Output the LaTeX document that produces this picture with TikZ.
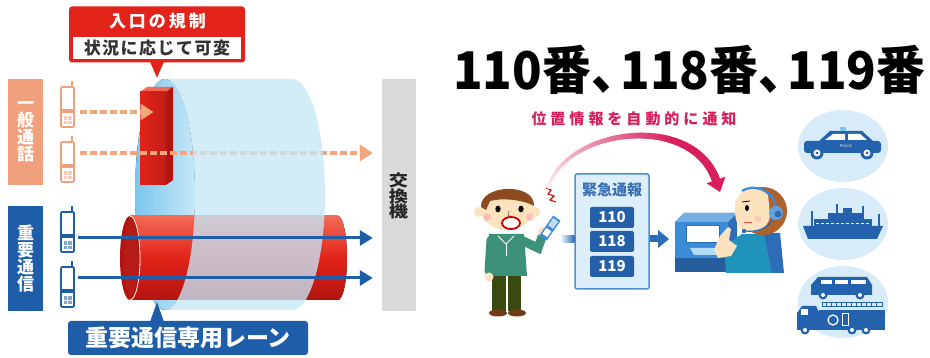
\documentclass[tikz,border=0pt]{standalone}
\usepackage{fontspec}
\setmainfont{Noto Sans CJK JP}
\usetikzlibrary{arrows.meta,calc,shapes.geometric}

\definecolor{salmon}{HTML}{F0A07C}
\definecolor{lane}{HTML}{1E5DA8}
\definecolor{tubeD}{HTML}{7CC6EE}
\definecolor{tubebody}{HTML}{C6E7F7}
\definecolor{redA}{HTML}{E2231A}
\definecolor{redD}{HTML}{B3140F}
\definecolor{redL}{HTML}{F26A55}
\definecolor{greybar}{HTML}{DADADA}
\definecolor{dashor}{HTML}{F3A67C}
\definecolor{crimson}{HTML}{D81E5B}
\definecolor{iconblue}{HTML}{2462AE}
\definecolor{circ}{HTML}{D7ECF8}
\definecolor{boxfill}{HTML}{DCEEF9}
\definecolor{boxline}{HTML}{4D8FD1}
\definecolor{numbox}{HTML}{2460AA}
\definecolor{skin}{HTML}{FDE3BD}
\definecolor{hair}{HTML}{8C4B1E}
\definecolor{hairB}{HTML}{B0602A}
\definecolor{shirt}{HTML}{3E9179}
\definecolor{pants}{HTML}{3A4812}
\definecolor{termA}{HTML}{3B8BD8}
\definecolor{termB}{HTML}{2D6DB8}
\definecolor{teal}{HTML}{1F93BC}

\tikzset{
  vlabel/.style={text=white, font=\bfseries\fontsize{17}{17}\selectfont, align=center, inner sep=0pt},
  dasharrow/.style={dashor, line width=3.5pt, dash pattern=on 7pt off 3pt,
    -{Triangle[length=13pt,width=16pt]}},
  lanearrow/.style={lane, line width=3pt, -{Triangle[length=13pt,width=15pt]}},
  numkey/.style={fill=numbox, rounded corners=2pt, minimum width=44pt, minimum height=21pt,
    inner sep=0pt, text=white, font=\bfseries\fontsize{15}{15}\selectfont},
  bubble/.style={fill=circ},
  icon/.style={fill=iconblue},
}

% small handset icon: x centre, top y, colour
\newcommand{\handsetIcon}[3]{%
  \draw[#3, line width=1.2pt] (#1+4.5,#2) -- (#1+4.5,#2-6);
  \draw[#3, line width=1.6pt, fill=white, rounded corners=1pt] (#1-6.5,#2) rectangle (#1+6.5,#2+40);
  \fill[#3] (#1-5.5,#2+22) rectangle (#1+5.5,#2+26);
  \fill[#3!55] (#1-4,#2+29) rectangle (#1+4,#2+37);
  \draw[white, line width=0.5pt] (#1,#2+29) -- (#1,#2+37) (#1-4,#2+33) -- (#1+4,#2+33);
}

\begin{document}
\begin{tikzpicture}[x=1pt,y=-1pt]
\useasboundingbox (0,0) rectangle (930,358);
\fill[white] (0,0) rectangle (930,358);

% ---------------- left panel ----------------
% category labels
\node[fill=salmon, minimum width=35pt, minimum height=106pt, inner sep=0pt] (general) at (25.5,132) {};
\node[vlabel] at (general) {一\\般\\通\\話};
\node[fill=lane, minimum width=35pt, minimum height=105pt, inner sep=0pt] (priority) at (25.5,258.5) {};
\node[vlabel] at (priority) {重\\要\\通\\信};

% handsets
\handsetIcon{67.5}{87}{salmon}
\handsetIcon{67.5}{142}{salmon}
\handsetIcon{67.5}{212}{lane}
\handsetIcon{67.5}{267}{lane}
\coordinate (g1) at (80,112);
\coordinate (g2) at (80,153);
\coordinate (p1) at (78,238);
\coordinate (p2) at (78,278);

% exchange
\node[fill=greybar, minimum width=34pt, minimum height=232pt, inner sep=0pt] (exch) at (399,195) {};
\node[font=\bfseries\fontsize{16}{15.5}\selectfont, text=black!85, align=center, inner sep=0pt] at (398.5,196)
  {\scalebox{1.2}[1]{交}\\\scalebox{1.2}[1]{換}\\\scalebox{1.2}[1]{機}};

% front face of the wide tube
\fill[left color=tubeD, right color=tubebody] (165,194.5) ellipse[x radius=30, y radius=115.5];

% dedicated lane cylinder
\fill[top color=redL, bottom color=redD, middle color=redA] (338,258) ellipse[x radius=9, y radius=42];
\fill[top color=redL, bottom color=redD, middle color=redA] (130,216) rectangle (338,300);
\fill[redD] (130,258) ellipse[x radius=10, y radius=42];
\fill[redA!80!black] (131,258) ellipse[x radius=7, y radius=38];
\draw[white, line width=0.8pt] (130,216) arc[start angle=-90, end angle=90, x radius=10, y radius=42];

% entry gate block
\fill[redL] (140,92) -- (147,87) -- (173,87) -- (166,92) -- cycle;
\fill[redD] (166,92) -- (173,87) -- (173,180) -- (166,185) -- cycle;
\fill[left color=redA, right color=redA!85!black] (140,92) rectangle (166,185);
\node[inner sep=0pt, minimum width=33pt, minimum height=98pt] (gate) at (156.5,136) {};

% general calls
\draw[dasharrow] (g2) -- ([xshift=-9pt]exch.west |- g2);
\draw[dasharrow] (g1) -- ([xshift=-3pt]gate.center |- g1);

% body of the wide tube (translucent)
\fill[tubebody, fill opacity=0.78] (165,79) -- (292,79)
  arc[start angle=-90, end angle=90, x radius=33, y radius=115.5] -- (165,310)
  arc[start angle=90, end angle=-90, x radius=30, y radius=115.5] -- cycle;

% priority calls
\draw[lanearrow] (p1) -- ([xshift=-9pt]exch.west |- p1);
\draw[lanearrow] (p2) -- ([xshift=-9pt]exch.west |- p2);

% callout: entry regulation
\node[fill=redA, rounded corners=3pt, minimum width=176pt, minimum height=56pt, inner sep=0pt] (reg) at (157,34.5) {};
\node[text=white, font=\bfseries\fontsize{17}{17}\selectfont, inner sep=0pt] at (157.5,21)
  {入\kern3pt 口\kern3pt の\kern3pt 規\kern3pt 制};
\node[fill=white, minimum width=168pt, minimum height=22pt, inner sep=0pt,
  text=black!80, font=\bfseries\fontsize{17}{17}\selectfont] (regsub) at (157,48.5)
  {状\kern1.5pt 況\kern1.5pt に\kern1.5pt 応\kern1.5pt じ\kern1.5pt て\kern1.5pt 可\kern1.5pt 変};
\fill[redA] ([xshift=-7pt,yshift=1pt]reg.south) -- ([xshift=7pt,yshift=1pt]reg.south) -- ([yshift=-15pt]reg.south) -- cycle;

% callout: dedicated lane
\node[fill=lane, rounded corners=3pt, minimum width=240pt, minimum height=34pt, inner sep=0pt,
  text=white, font=\bfseries\fontsize{23}{23}\selectfont] (lanelbl) at (188,338) {重要通信専用レーン};
\fill[lane] (150,322) -- (164,322) -- (157,302) -- cycle;

% ---------------- right panel ----------------
\node[anchor=base west, inner sep=0pt, font=\bfseries\fontsize{52}{52}\selectfont] (title) at (453,90)
  {\resizebox{472pt}{\height}{110番\makebox[0.6em][l]{、}118番\makebox[0.6em][l]{、}119番}};

\node[text=crimson, font=\bfseries\fontsize{15}{15}\selectfont, inner sep=0pt] (notify) at (634,119)
  {位\kern4pt 置\kern4pt 情\kern4pt 報\kern4pt を\kern4pt 自\kern4pt 動\kern4pt 的\kern4pt に\kern4pt 通\kern4pt 知};

% service circles
\fill[bubble] (843,146) ellipse[x radius=45, y radius=36];
\fill[bubble] (843,224) ellipse[x radius=45, y radius=36];
\fill[bubble] (843,302) ellipse[x radius=45, y radius=36];

% police car
\fill[icon] (830,131) -- (862,131) -- (873,141) -- (819,141) -- cycle;
\fill[white] (825,140) -- (833,134) -- (845,134) -- (845,140) -- cycle;
\fill[white] (848,134) -- (860,134) -- (867,140) -- (848,140) -- cycle;
\fill[icon, rounded corners=3pt] (804,141) rectangle (881,153);
\fill[tubeD] (840,127) rectangle (846,131);
\foreach \wx in {817,867} {
  \fill[icon] (\wx,153) circle[radius=6.5];
  \fill[white] (\wx,153) circle[radius=3.5];
  \fill[icon] (\wx,153) circle[radius=1.5];
}
\node[text=white, font=\fontsize{3.5}{3.5}\selectfont, inner sep=0pt] at (846,146) {POLICE};

% ship
\fill[icon] (803,226) -- (883,226) -- (877,239) -- (808,239) -- cycle;
\fill[icon] (814,219) rectangle (872,226);
\fill[icon] (828,213) rectangle (862,219);
\fill[icon] (843,208) rectangle (852,213);
\draw[iconblue, line width=1.2pt] (812,211) -- (812,226) (837,204) -- (837,213) (863,206) -- (863,219) (879,214) -- (879,226);
\draw[white, line width=0.8pt, dash pattern=on 3pt off 2pt] (816,223) -- (870,223);

% ambulance van
\fill[icon] (811,285) -- (818,277) -- (867,277) -- (872,285) -- (872,295) -- (811,295) -- cycle;
\fill[white] (821,280) rectangle (832,284);
\fill[white] (835,280) rectangle (848,284);
\fill[white] (851,280) rectangle (866,284);
\foreach \wx in {823,860} {
  \fill[icon] (\wx,295) circle[radius=4.5];
  \fill[white] (\wx,295) circle[radius=2];
}
% fire engine
\fill[icon] (797,313) -- (802,306) -- (816,306) -- (819,312) -- (819,330) -- (797,330) -- cycle;
\fill[white] (801,309) rectangle (808,315);
\fill[icon] (819,310) rectangle (885,330);
\draw[iconblue, line width=1pt] (822,303) rectangle (882,307);
\foreach \lx in {826,831,...,880} { \draw[iconblue, line width=0.8pt] (\lx,303) -- (\lx,307); }
\draw[white, line width=1.3pt] (833,320) circle[radius=5];
\draw[white, line width=1pt] (842,314) rectangle (848,326);
\foreach \wx in {805,852,866} {
  \fill[icon] (\wx,330) circle[radius=4.5];
  \fill[white] (\wx,330) circle[radius=2];
}

% caller
\fill[pants] (492,274) rectangle (506,311);
\fill[pants] (508,274) rectangle (521,311);
\fill[hair!80!black] (498,313) ellipse[x radius=9, y radius=3.5];
\fill[hair!80!black] (517,313) ellipse[x radius=9, y radius=3.5];
\fill[shirt] (489,234) -- (524,234) -- (527,276) -- (487,276) -- cycle;
\draw[shirt, line width=9pt, line cap=round] (491,240) -- (489,271);
\fill[skin] (489,277) circle[radius=4.5];
\draw[shirt, line width=9pt, line cap=round] (521,240) -- (538,248) -- (542,237);
\fill[skin] (543,232) circle[radius=5];
\draw[white, line width=0.8pt] (498,236) -- (506,244) -- (514,236);
\draw[white, line width=0.8pt] (506,244) -- (506,256);
\fill[skin] (479,212) circle[radius=5];
\fill[skin] (535,212) circle[radius=5];
\fill[skin] (507,210) ellipse[x radius=26, y radius=20];
\fill[hair] (481,207) .. controls (480,184) and (535,182) .. (534,206)
  .. controls (522,199) and (500,198) .. (490,201) -- (486,210) -- cycle;
\fill[black] (498,209) ellipse[x radius=2.6, y radius=3.4];
\fill[black] (521,209) ellipse[x radius=2.6, y radius=3.4];
\draw[black!60, line width=0.6pt] (509,211) -- (508,216) -- (511,216);
\fill[red!30, opacity=0.7] (487,217) circle[radius=4];
\fill[red!30, opacity=0.7] (530,217) circle[radius=4];
\draw[red!80!black, line width=1.8pt, fill=white] (511,223) ellipse[x radius=9, y radius=6];
% handset in hand
\begin{scope}[shift={(550,228)}, rotate=-35]
  \fill[termA] (-4.5,-12) rectangle (4.5,12);
  \fill[white!70!termA] (-3,-10) rectangle (3,-1);
  \fill[white] (-3,2) rectangle (3,9);
\end{scope}
\coordinate (callsrc) at (550,214);
\draw[red!85!black, line width=1.1pt, line join=miter] (546,188) -- (551,190) -- (548,194) -- (554,196) -- (550,200) -- (556,202);

% emergency call box
\node[fill=boxfill, draw=boxline, line width=1.5pt, rounded corners=2pt, minimum width=74pt, minimum height=115pt, inner sep=0pt] (ecall) at (612,231.5) {};
\node[text=numbox!90!white, font=\bfseries\fontsize{15}{15}\selectfont, inner sep=0pt] at (612,190) {緊急通報};
\node[numkey] (k110) at (612,217.5) {110};
\node[numkey] (k118) at (612,241.5) {118};
\node[numkey] (k119) at (612,266.5) {119};

% console
\fill[termB] (675,222) -- (684,213) -- (737,213) -- (737,263) -- (728,272) -- (675,272) -- cycle;
\fill[termA] (675,222) rectangle (728,258);
\fill[termA!70!white] (675,222) -- (684,213) -- (737,213) -- (728,222) -- cycle;
\fill[termB!85!black] (675,258) rectangle (728,272);
\node[fill=white, draw=termB, line width=1pt, minimum width=33pt, minimum height=17pt, inner sep=0pt] (screen) at (703,234) {};
\fill[tubeD!60!white] (690,248) -- (726,248) -- (730,255) -- (694,255) -- cycle;
\node[inner sep=0pt, minimum width=62pt, minimum height=59pt] (console) at (706,243) {};

% operator
\fill[termB] (757,233) -- (780,233) -- (784,273) -- (752,273) -- cycle;
\fill[teal] (724,246) -- (742,234) -- (764,234) -- (772,273) -- (726,273) -- cycle;
\fill[skin] (720,236) -- (728,227) -- (731,229) -- (729,240) -- (737,246) -- (731,256) -- (718,258) -- (714,250) -- cycle;
\fill[hairB] (763,211) circle[radius=24];
\fill[skin] (735,203) .. controls (740,186) and (760,186) .. (768,195) -- (770,214) .. controls (770,226) and (760,232) .. (746,232) .. controls (738,230) and (734,220) .. (735,203) -- cycle;
\draw[termA, line width=2.2pt] (742,191) .. controls (755,183) and (773,190) .. (776,207);
\fill[termA!80!white] (776,213) circle[radius=7];
\fill[termB] (778,214) circle[radius=3.5];
\draw[termB, line width=1.2pt] (773,220) .. controls (766,230) and (755,232) .. (745,231);
\fill[termB] (744,231) circle[radius=2.2];
\fill[black] (747,208) ellipse[x radius=2, y radius=3];
\draw[black, line width=0.8pt] (742,202) -- (750,201);
\draw[red!70, line width=1pt] (744,223) -- (752,223);
\fill[red!25, opacity=0.8] (758,219) circle[radius=3.5];
\coordinate (calldst) at (716,180);

% flow arrows
\shade[left color=white, right color=termB] (560,235.5) rectangle (ecall.west |- 0,242.5);
\fill[termB] (ecall.east |- 0,235.5) rectangle (659,242.5);
\fill[termB] (658,230) -- (669,239) -- (658,248) -- cycle;

% location notice arrow: curve from caller to operator, fading in
\foreach \i in {0,...,59} {
  \pgfmathsetmacro\ta{\i/60}
  \pgfmathsetmacro\tb{min(1,(\i+1.2)/60)}
  \pgfmathsetmacro\xa{(1-\ta)^3*548+3*(1-\ta)^2*\ta*566+3*(1-\ta)*\ta^2*692+\ta^3*716}
  \pgfmathsetmacro\ya{(1-\ta)^3*188+3*(1-\ta)^2*\ta*128+3*(1-\ta)*\ta^2*112+\ta^3*180}
  \pgfmathsetmacro\xb{(1-\tb)^3*548+3*(1-\tb)^2*\tb*566+3*(1-\tb)*\tb^2*692+\tb^3*716}
  \pgfmathsetmacro\yb{(1-\tb)^3*188+3*(1-\tb)^2*\tb*128+3*(1-\tb)*\tb^2*112+\tb^3*180}
  \pgfmathsetmacro\mixv{min(100,8+130*\ta)}
  \pgfmathsetmacro\lw{2.5+6*\ta}
  \draw[line width=\lw pt, color=crimson!\mixv!white, line cap=round] (\xa,\ya) -- (\xb,\yb);
}
\fill[crimson] (725.4,176.7) -- (720,192) -- (706.6,183.3) -- cycle;

\end{tikzpicture}
\end{document}
